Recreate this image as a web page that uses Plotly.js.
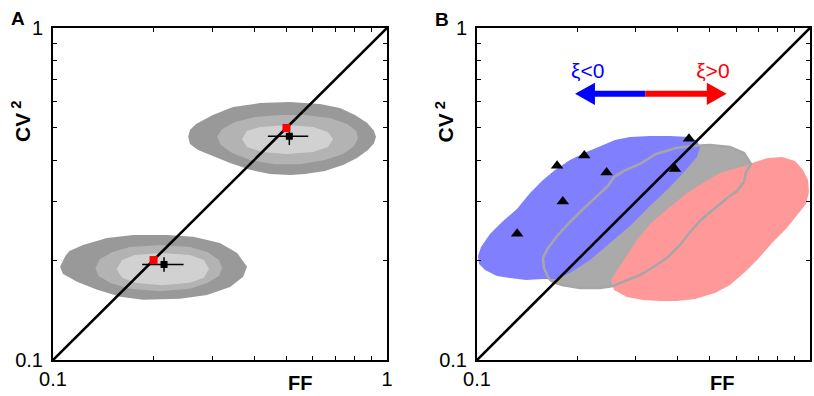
<!DOCTYPE html>
<html>
<head>
<meta charset="utf-8">
<script src="https://cdn.plot.ly/plotly-3.0.1.min.js"></script>
<style>html,body{margin:0;padding:0;background:#fff;}#chart{width:814px;height:396px;}</style>
</head>
<body>
<div id="chart"></div>
<script>
// ---------- shared axis ticks ----------
const majorTickVals = [0.1, 1];
const majorTickText = ['0.1', '1'];
const minorTickVals = [0.2,0.3,0.4,0.5,0.6,0.7,0.8,0.9];
const diagFF = [0.1, 1];
const diagCV2 = [0.1, 1];

// ---------- panel A : density contours (outer / middle / inner) ----------
const upperOuterFF = [0.254,0.257,0.268,0.301,0.346,0.417,0.512,0.630,0.723,0.802,0.871,0.914,0.927,0.914,0.877,0.813,0.739,0.652,0.568,0.512,0.446,0.389,0.339,0.299,0.272,0.257];
const upperOuterCV2 = [0.470,0.493,0.514,0.547,0.578,0.594,0.599,0.590,0.574,0.547,0.518,0.490,0.470,0.450,0.429,0.406,0.387,0.371,0.363,0.361,0.363,0.374,0.392,0.412,0.429,0.447];
const upperMidFF = [0.310,0.321,0.351,0.403,0.478,0.568,0.675,0.759,0.808,0.819,0.797,0.739,0.652,0.549,0.462,0.389,0.344,0.318];
const upperMidCV2 = [0.470,0.496,0.521,0.539,0.547,0.547,0.536,0.514,0.490,0.466,0.441,0.417,0.400,0.389,0.389,0.400,0.420,0.444];
const upperInnerFF = [0.368,0.381,0.417,0.502,0.600,0.666,0.689,0.666,0.600,0.502,0.423,0.381];
const upperInnerCV2 = [0.463,0.490,0.503,0.510,0.503,0.486,0.463,0.438,0.423,0.417,0.423,0.438];

const lowerOuterFF = [0.105,0.109,0.112,0.123,0.145,0.174,0.219,0.263,0.316,0.356,0.381,0.371,0.339,0.289,0.240,0.186,0.159,0.135,0.118,0.107];
const lowerOuterCV2 = [0.191,0.206,0.213,0.222,0.233,0.238,0.238,0.235,0.225,0.210,0.191,0.178,0.166,0.157,0.153,0.152,0.155,0.163,0.172,0.182];
const lowerMidFF = [0.134,0.138,0.150,0.170,0.209,0.257,0.291,0.314,0.321,0.314,0.291,0.257,0.209,0.170,0.148,0.137];
const lowerMidCV2 = [0.189,0.201,0.211,0.219,0.222,0.219,0.211,0.200,0.189,0.179,0.171,0.164,0.161,0.164,0.171,0.179];
const lowerInnerFF = [0.155,0.161,0.176,0.212,0.257,0.283,0.293,0.283,0.257,0.212,0.176,0.161];
const lowerInnerCV2 = [0.188,0.200,0.207,0.210,0.207,0.200,0.188,0.177,0.171,0.168,0.171,0.177];

// ---------- panel A : points ----------
const theoryFF = [0.2, 0.5];
const theoryCV2 = [0.2, 0.5];
const estFF = [0.215, 0.510];
const estCV2 = [0.194, 0.472];
const estFFminus = [0.030, 0.070];
const estFFplus = [0.031, 0.071];
const estCV2minus = [0.0095, 0.028];
const estCV2plus = [0.010, 0.015];

// ---------- panel B : regions ----------
const negFF = [0.4675,0.4579,0.4362,0.3799,0.3306,0.2880,0.2597,0.2341,0.2096,0.1902,0.1715,0.1578,0.1443,0.1318,0.1197,0.1094,0.1028,0.1007,0.1014,0.1057,0.1148,0.1256,0.1403,0.1578,0.1727,0.1902,0.2185,0.2508,0.2880,0.3306,0.3799,0.4185,0.4579];
const negCV2 = [0.4381,0.4566,0.4696,0.4728,0.4728,0.4696,0.4599,0.4411,0.4202,0.4003,0.3735,0.3485,0.3184,0.2850,0.2622,0.2396,0.2190,0.2057,0.1946,0.1867,0.1791,0.1766,0.1742,0.1754,0.1754,0.1828,0.2001,0.2251,0.2532,0.2910,0.3320,0.3684,0.4087];
const zeroFF = [0.1645,0.1589,0.1578,0.1634,0.1751,0.1902,0.2096,0.2293,0.2474,0.2579,0.2764,0.3085,0.3447,0.3960,0.4423,0.5008,0.5752,0.6337,0.6650,0.6425,0.6337,0.6037,0.5634,0.5330,0.5008,0.4675,0.4362,0.4071,0.3747,0.3423,0.3085,0.2783,0.2561,0.2341,0.2039,0.1800,0.1691,0.1645];
const zeroCV2 = [0.1754,0.1893,0.2029,0.2175,0.2380,0.2604,0.2869,0.3119,0.3343,0.3558,0.3710,0.3894,0.4173,0.4350,0.4411,0.4441,0.4381,0.4202,0.3894,0.3684,0.3437,0.3228,0.3076,0.2930,0.2791,0.2622,0.2429,0.2221,0.2043,0.1919,0.1803,0.1730,0.1671,0.1648,0.1648,0.1682,0.1718,0.1754];
const posFF = [0.2526,0.2579,0.2821,0.3150,0.3543,0.3988,0.4515,0.5184,0.5752,0.6381,0.6980,0.7689,0.8471,0.9141,0.9727,0.9931,0.9863,0.9528,0.9016,0.8240,0.7479,0.6837,0.6381,0.5873,0.5366,0.4772,0.4273,0.3799,0.3353,0.3022,0.2764,0.2579];
const posCV2 = [0.1742,0.1625,0.1548,0.1516,0.1505,0.1505,0.1527,0.1591,0.1682,0.1841,0.2015,0.2251,0.2480,0.2733,0.2951,0.3206,0.3485,0.3735,0.3975,0.4087,0.4059,0.3948,0.3840,0.3761,0.3659,0.3413,0.3184,0.2889,0.2604,0.2298,0.2001,0.1803];

// ---------- panel B : data triangles ----------
const triFF = [0.132,0.181,0.174,0.210,0.245,0.393,0.433];
const triCV2 = [0.240,0.300,0.385,0.413,0.367,0.376,0.464];

// ---------- panel B : xi arrow ----------
const arrowY = 0.634;
const blueShaftFF = [0.224, 0.320];
const redShaftFF = [0.320, 0.492];
const blueHeadFF = [0.226, 0.197, 0.226];
const redHeadFF = [0.490, 0.562, 0.490];
const headCV2 = [0.684, 0.634, 0.586];
const labelFF = [0.215, 0.511];
const labelCV2 = [0.734, 0.734];
const labelText = ['ξ&lt;0', 'ξ&gt;0'];

const FONT = 'Liberation Sans, Arial, Helvetica, sans-serif';
const traces = [];
function poly(x, y, color, xa, ya) {
  traces.push({x: x, y: y, xaxis: xa, yaxis: ya, type: 'scatter', mode: 'lines', fill: 'toself',
    fillcolor: color, line: {width: 0, color: color}, hoverinfo: 'skip', showlegend: false});
}
// panel A blobs
poly(upperOuterFF, upperOuterCV2, '#999999', 'x', 'y');
poly(upperMidFF, upperMidCV2, '#b3b3b3', 'x', 'y');
poly(upperInnerFF, upperInnerCV2, '#d1d1d1', 'x', 'y');
poly(lowerOuterFF, lowerOuterCV2, '#999999', 'x', 'y');
poly(lowerMidFF, lowerMidCV2, '#b3b3b3', 'x', 'y');
poly(lowerInnerFF, lowerInnerCV2, '#d1d1d1', 'x', 'y');
traces.push({x: diagFF, y: diagCV2, xaxis: 'x', yaxis: 'y', mode: 'lines', line: {color: '#000', width: 2.6}, showlegend: false});
traces.push({x: estFF, y: estCV2, xaxis: 'x', yaxis: 'y', mode: 'markers',
  marker: {symbol: 'square', size: 7, color: '#000'},
  error_x: {type: 'data', symmetric: false, array: estFFplus, arrayminus: estFFminus, color: '#000', thickness: 1.5, width: 0},
  error_y: {type: 'data', symmetric: false, array: estCV2plus, arrayminus: estCV2minus, color: '#000', thickness: 1.5, width: 0},
  showlegend: false});
traces.push({x: theoryFF, y: theoryCV2, xaxis: 'x', yaxis: 'y', mode: 'markers',
  marker: {symbol: 'square', size: 8, color: '#ff0000'}, showlegend: false});

// panel B regions
poly(zeroFF, zeroCV2, '#aaaaaa', 'x2', 'y2');
poly(negFF, negCV2, '#8080ff', 'x2', 'y2');
poly(posFF, posCV2, '#ff9999', 'x2', 'y2');
traces.push({x: zeroFF, y: zeroCV2, xaxis: 'x2', yaxis: 'y2', mode: 'lines', line: {color: '#a6a6a6', width: 2.5}, showlegend: false});
traces.push({x: diagFF, y: diagCV2, xaxis: 'x2', yaxis: 'y2', mode: 'lines', line: {color: '#000', width: 2.6}, showlegend: false});
traces.push({x: triFF, y: triCV2, xaxis: 'x2', yaxis: 'y2', mode: 'markers',
  marker: {symbol: 'triangle-up', size: 11, color: '#000'}, showlegend: false});
// arrow
traces.push({x: blueShaftFF, y: [arrowY, arrowY], xaxis: 'x2', yaxis: 'y2', mode: 'lines', line: {color: '#0000ff', width: 6}, showlegend: false});
traces.push({x: redShaftFF, y: [arrowY, arrowY], xaxis: 'x2', yaxis: 'y2', mode: 'lines', line: {color: '#ff0000', width: 6}, showlegend: false});
poly(blueHeadFF, headCV2, '#0000ff', 'x2', 'y2');
poly(redHeadFF, headCV2, '#ff0000', 'x2', 'y2');
traces.push({x: labelFF, y: labelCV2, text: labelText, xaxis: 'x2', yaxis: 'y2', mode: 'text',
  textposition: 'middle center', textfont: {family: FONT, size: 21, color: ['#0000ff', '#ff0000']}, showlegend: false});

function axis(domain, anchor, standoff) {
  return {type: 'log', range: [-1, 0], domain: domain, anchor: anchor,
    tickmode: 'array', tickvals: majorTickVals, ticktext: majorTickText,
    ticks: 'inside', ticklen: 4, tickwidth: 1, tickcolor: '#000',
    minor: {tickmode: 'array', tickvals: minorTickVals, ticks: 'inside', ticklen: 4, tickwidth: 1, tickcolor: '#000', showgrid: false},
    ticklabelstandoff: standoff,
    showline: true, linewidth: 2, linecolor: '#000', mirror: 'ticks', showgrid: false, zeroline: false,
    tickfont: {family: FONT, size: 20, color: '#000'}, fixedrange: true};
}
function label(text, px, py, size, angle) {
  return {text: text, xref: 'paper', yref: 'paper', x: px / 814, y: 1 - py / 396,
    xanchor: 'center', yanchor: 'middle', textangle: angle || 0, showarrow: false,
    font: {family: FONT, size: size, color: '#000'}};
}
const yDom = [36/396, 368/396];
const layout = {
  width: 814, height: 396, margin: {l: 0, r: 0, t: 0, b: 0},
  paper_bgcolor: '#fff', plot_bgcolor: '#fff', showlegend: false, hovermode: false,
  xaxis: axis([53/814, 387/814], 'y', 0),
  yaxis: axis(yDom, 'x', 4),
  xaxis2: axis([477/814, 810/814], 'y2', 0),
  yaxis2: axis(yDom, 'x2', 4),
  annotations: [
    label('<b>A</b>', 17.5, 18.5, 19),
    label('<b>B</b>', 441.5, 19, 19),
    label('<b>FF</b>', 299.5, 383, 20),
    label('<b>FF</b>', 721.5, 383, 20),
    label('<b>CV<sup> 2</sup></b>', 20.5, 121.5, 21, -90),
    label('<b>CV<sup> 2</sup></b>', 444, 121.5, 21, -90)
  ]
};
Plotly.newPlot('chart', traces, layout, {displayModeBar: false, staticPlot: true});
</script>
</body>
</html>
